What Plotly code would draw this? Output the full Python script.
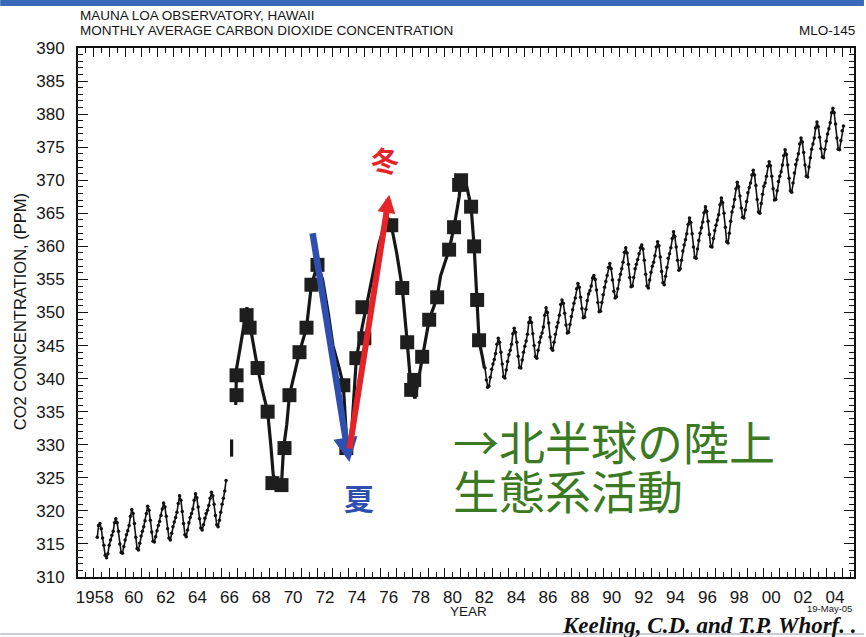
import plotly.graph_objects as go

# ---------------- data ----------------
# Monthly CO2 (ppm), 1958-03 .. 1966-04
early_start = (1958, 3)
early_ppm = [
    316.0, 317.8, 318.1, 317.3, 315.9, 314.8, 313.3, 312.9, 313.5, 314.8,            # 1958 Mar-Dec
    315.6, 316.3, 316.9, 318.2, 318.8, 318.2, 316.9, 315.0, 313.7, 313.6, 314.6, 315.6,  # 1959
    316.4, 317.0, 317.8, 319.2, 320.2, 319.6, 318.1, 316.0, 314.3, 314.1, 315.1, 316.2,  # 1960
    316.9, 317.6, 318.5, 319.6, 320.7, 320.1, 318.6, 316.8, 315.4, 315.3, 316.1, 317.0,  # 1961
    317.8, 318.4, 319.3, 320.3, 321.2, 320.6, 319.2, 317.3, 315.9, 315.6, 316.6, 317.6,  # 1962
    318.3, 319.0, 319.8, 321.1, 322.3, 321.6, 319.9, 318.1, 316.4, 316.1, 317.1, 318.2,  # 1963
    319.0, 319.6, 320.3, 321.6, 322.6, 322.0, 320.6, 318.8, 317.4, 317.1, 317.9, 318.9,  # 1964
    319.6, 320.1, 320.8, 321.9, 322.8, 322.3, 321.0, 319.3, 317.9, 317.6, 318.6, 319.8,  # 1965
    321.0, 321.9, 323.0, 324.6,                                                          # 1966 Jan-Apr
]

# Monthly CO2 (ppm), 1982-07 .. 2005-01
late_start = (1982, 7)
late_ppm = [
    341.6, 339.8, 338.7, 338.9, 340.2, 341.4,                                            # 1982 Jul-Dec
    342.2, 342.9, 343.8, 345.2, 346.1, 345.5, 344.0, 342.2, 340.3, 340.1, 341.3, 342.6,  # 1983
    343.6, 344.3, 345.2, 346.8, 347.6, 347.0, 345.5, 343.4, 341.7, 341.6, 342.8, 344.0,  # 1984
    344.9, 345.7, 346.7, 348.5, 349.2, 348.5, 346.8, 345.0, 343.3, 343.1, 344.3, 345.5,  # 1985
    346.3, 346.9, 347.8, 349.6, 350.7, 350.0, 348.4, 346.3, 344.6, 344.3, 345.5, 346.7,  # 1986
    347.8, 348.5, 349.6, 351.2, 351.9, 351.4, 349.9, 348.1, 346.9, 347.0, 348.2, 349.4,  # 1987
    350.4, 351.4, 352.2, 353.6, 354.4, 353.8, 352.3, 350.6, 349.2, 349.3, 350.5, 351.8,  # 1988
    352.8, 353.3, 354.0, 355.2, 355.6, 355.0, 353.4, 351.5, 350.1, 350.2, 351.5, 352.7,  # 1989
    353.8, 354.7, 355.6, 356.8, 357.4, 356.6, 354.9, 353.2, 352.2, 352.4, 353.6, 354.9,  # 1990
    355.8, 356.6, 357.6, 359.1, 359.8, 359.0, 357.3, 355.3, 353.9, 354.0, 355.3, 356.6,  # 1991
    357.3, 358.0, 358.9, 359.8, 360.2, 359.6, 357.9, 355.8, 354.0, 353.7, 354.9, 356.1,  # 1992
    357.0, 357.6, 358.6, 359.9, 360.7, 360.1, 358.4, 356.2, 354.5, 354.2, 355.5, 356.8,  # 1993
    358.2, 358.9, 359.8, 361.2, 362.2, 361.5, 359.9, 357.9, 356.4, 356.6, 357.9, 359.3,  # 1994
    360.2, 361.0, 361.9, 363.3, 364.3, 363.6, 361.9, 359.9, 358.3, 358.2, 359.6, 360.9,  # 1995
    362.0, 362.8, 363.7, 365.1, 366.0, 365.3, 363.8, 361.8, 360.0, 359.9, 361.2, 362.4,  # 1996
    363.2, 364.0, 364.8, 366.3, 367.3, 366.6, 365.0, 362.9, 360.7, 360.5, 362.0, 363.8,  # 1997
    365.2, 366.0, 367.1, 368.7, 369.7, 369.0, 367.6, 365.8, 364.4, 364.3, 365.5, 366.8,  # 1998
    368.1, 368.9, 369.6, 370.8, 371.5, 370.8, 369.2, 367.1, 365.2, 365.0, 366.5, 367.9,  # 1999
    369.1, 369.6, 370.6, 372.1, 372.8, 372.2, 370.6, 368.7, 367.0, 367.1, 368.4, 369.8,  # 2000
    370.6, 371.3, 372.3, 373.7, 374.6, 373.9, 372.3, 370.3, 368.4, 368.2, 369.6, 371.1,  # 2001
    372.4, 373.1, 374.0, 375.5, 376.4, 375.8, 374.2, 372.3, 370.6, 370.5, 372.0, 373.4,  # 2002
    374.7, 375.5, 376.4, 377.9, 378.8, 378.1, 376.5, 374.8, 373.5, 373.4, 374.7, 375.9,  # 2003
    377.0, 377.8, 378.7, 380.2, 380.9, 380.2, 378.5, 376.4, 374.7, 374.6, 376.0, 377.5,  # 2004
    378.2,                                                                               # 2005 Jan
]

# Magnified (blocky) seasonal trace, 1966-1982
mid_year = [1966.64, 1966.64, None, 1966.90, 1966.95, 1967.20, 1967.45, 1967.60, 1967.80,
            1968.05, 1968.27, 1968.55, 1968.90, 1969.10, 1969.25, 1969.50, 1969.77, 1969.90,
            1970.10, 1970.27, 1970.55, 1970.90, 1971.34, 1971.65, 1972.03, 1972.35, 1972.70,
            1973.00, 1973.40, 1973.65, 1973.84, 1973.95, 1974.20, 1974.47, 1974.85, 1975.10,
            1975.50, 1975.90, 1976.40, 1976.66, 1977.00, 1977.35, 1977.66, 1977.91, 1978.15,
            1978.35, 1978.60, 1979.04, 1979.54, 1979.75, 1980.29, 1980.60, 1980.92, 1981.04,
            1981.40, 1981.67, 1981.86, 1982.05, 1982.17, 1982.40, 1982.50]
mid_ppm = [328.2, 330.8, None, 336.0, 341.5, 345.0, 349.0, 350.8, 348.0,
           344.5, 341.6, 338.5, 335.0, 330.0, 325.5, 323.5, 324.0, 329.5,
           333.0, 337.5, 340.5, 344.0, 347.7, 354.2, 357.2, 355.0, 350.0,
           345.0, 341.5, 339.0, 331.5, 329.0, 333.0, 343.1, 348.0, 351.0,
           355.5, 360.5, 364.5, 363.2, 359.0, 353.7, 345.5, 338.3, 337.0,
           339.8, 343.3, 348.9, 352.3, 355.5, 359.5, 362.9, 367.5, 370.0,
           369.0, 366.0, 360.0, 351.9, 345.8, 343.0, 341.6]

block_year = [1966.95, 1966.95, 1967.58, 1967.77, 1968.27, 1968.90, 1969.96, 1969.20, 1969.77,
              1970.27, 1970.90, 1971.34, 1971.65, 1972.03, 1973.65, 1973.84, 1974.47, 1974.97,
              1974.85, 1976.66, 1977.35, 1977.66, 1977.91, 1978.10, 1978.60, 1979.04, 1979.54,
              1980.29, 1980.60, 1980.92, 1981.04, 1981.67, 1981.86, 1982.05, 1982.17]
block_ppm = [337.5, 340.5, 349.6, 347.7, 341.6, 335.0, 329.5, 324.2, 323.9,
             337.5, 344.0, 347.7, 354.2, 357.2, 339.0, 329.5, 343.1, 346.1,
             350.8, 363.2, 353.7, 345.5, 338.3, 339.8, 343.3, 348.9, 352.3,
             359.5, 362.9, 369.3, 370.0, 366.0, 360.0, 351.9, 345.8]

x_label_years = [1958, 1960, 1962, 1964, 1966, 1968, 1970, 1972, 1974, 1976, 1978, 1980,
                 1982, 1984, 1986, 1988, 1990, 1992, 1994, 1996, 1998, 2000, 2002, 2004]
x_label_text = ["1958", "60", "62", "64", "66", "68", "70", "72", "74", "76", "78", "80",
                "82", "84", "86", "88", "90", "92", "94", "96", "98", "00", "02", "04"]
y_ticks = list(range(310, 391, 5))


def month_axis(start, n):
    y0, m0 = start
    out = []
    for i in range(n):
        k = (m0 - 1) + i
        out.append(y0 + k // 12 + ((k % 12) + 0.5) / 12.0)
    return out


early_year = month_axis(early_start, len(early_ppm))
late_year = month_axis(late_start, len(late_ppm))

# label positions: centred in the labelled year (the 4-digit first label sits a bit left)
x_label_pos = [v + 0.5 for v in x_label_years]
x_label_pos[0] = x_label_years[0] + 0.05

# ---------------- layout geometry ----------------
W, H = 866, 637
L, R, T, B = 78, 10, 48, 60
PW, PH = W - L - R, H - T - B


def px(xp):
    return (xp - L) / PW


def py(yp):
    return (H - B - yp) / PH


fig = go.Figure()

line_style = dict(color="#111111", width=1.6)
fig.add_trace(go.Scatter(x=early_year, y=early_ppm, mode="lines+markers",
                         line=line_style, marker=dict(size=3.5, color="#111111"),
                         hoverinfo="skip", showlegend=False))
fig.add_trace(go.Scatter(x=late_year, y=late_ppm, mode="lines+markers",
                         line=line_style, marker=dict(size=3.5, color="#111111"),
                         hoverinfo="skip", showlegend=False))
fig.add_trace(go.Scatter(x=mid_year, y=mid_ppm, mode="lines",
                         line=dict(color="#161616", width=3.2),
                         connectgaps=False, hoverinfo="skip", showlegend=False))
fig.add_trace(go.Scatter(x=block_year, y=block_ppm, mode="markers",
                         marker=dict(symbol="square", size=14, color="#1e1e1e"),
                         hoverinfo="skip", showlegend=False))
# invisible trace for the tick-only overlay axis
fig.add_trace(go.Scatter(x=[1957, 2005.7], y=[None, None], xaxis="x2",
                         mode="markers", showlegend=False, hoverinfo="skip"))

tick_font = dict(family="Liberation Sans, Arial, sans-serif", size=17, color="#151515")

fig.update_layout(
    width=W, height=H,
    margin=dict(l=L, r=R, t=T, b=B, pad=0),
    paper_bgcolor="white", plot_bgcolor="white",
    xaxis=dict(range=[1957.0, 2005.7], tickmode="array",
               tickvals=x_label_pos, ticktext=x_label_text,
               ticks="", showgrid=False, zeroline=False, showline=True,
               linecolor="#111111", linewidth=1.8, mirror=True,
               tickfont=tick_font, ticklabelstandoff=4),
    xaxis2=dict(range=[1957.0, 2005.7], overlaying="x", side="bottom",
                tickmode="linear", tick0=1958, dtick=1, ticks="inside", ticklen=9,
                tickwidth=1.3, tickcolor="#111111", showticklabels=False,
                showgrid=False, zeroline=False, showline=False, mirror="ticks",
                minor=dict(tick0=1957.5, dtick=1, ticks="inside", ticklen=5,
                           tickwidth=1.2, tickcolor="#111111", showgrid=False)),
    yaxis=dict(range=[310, 390], tickmode="array", tickvals=y_ticks,
               ticks="inside", ticklen=10, tickwidth=1.3, tickcolor="#111111",
               showgrid=False, zeroline=False, showline=True, linecolor="#111111",
               linewidth=1.8, mirror="ticks", tickfont=tick_font,
               ticklabelstandoff=8,
               minor=dict(dtick=1, ticks="inside", ticklen=5, tickwidth=1.1,
                          tickcolor="#111111", showgrid=False)),
)

title_font = dict(family="Liberation Sans, Arial, sans-serif", size=13.5, color="#151515")
ann = []
ann.append(dict(text="MAUNA LOA OBSERVATORY, HAWAII", x=px(78), y=py(15),
                xanchor="left", yanchor="middle", font=title_font))
ann.append(dict(text="MONTHLY AVERAGE CARBON DIOXIDE CONCENTRATION", x=px(78), y=py(31),
                xanchor="left", yanchor="middle", font=title_font))
ann.append(dict(text="MLO-145", x=px(859), y=py(31), xanchor="right", yanchor="middle",
                font=title_font))
ann.append(dict(text="CO2 CONCENTRATION, (PPM)", x=px(20), y=py(312), textangle=-90,
                xanchor="center", yanchor="middle",
                font=dict(family="Liberation Sans, Arial, sans-serif", size=16.5, color="#151515")))
ann.append(dict(text="YEAR", x=px(470), y=py(611), xanchor="center", yanchor="middle",
                font=title_font))
ann.append(dict(text="19-May-05", x=px(831), y=py(608), xanchor="center", yanchor="middle",
                font=dict(family="Liberation Sans, Arial, sans-serif", size=9.5, color="#151515")))
ann.append(dict(text="<b><i>Keeling, C.D. and T.P. Whorf. .</i></b>", x=px(561), y=py(625),
                xanchor="left", yanchor="middle",
                font=dict(family="Liberation Serif, Times New Roman, serif", size=23,
                          color="#111111")))

# arrows (head at x,y ; tail at ax,ay in data coords)
ann.append(dict(x=1974.03, y=327.4, ax=1971.71, ay=362.2, xref="x", yref="y",
                axref="x", ayref="y", text="", showarrow=True, arrowhead=2,
                arrowsize=0.75, arrowwidth=6.5, arrowcolor="#2f4fb0"))
ann.append(dict(x=1976.53, y=367.8, ax=1974.03, ay=329.2, xref="x", yref="y",
                axref="x", ayref="y", text="", showarrow=True, arrowhead=2,
                arrowsize=0.6, arrowwidth=6, arrowcolor="#e5242a"))

cjk = "Noto Sans CJK JP, Noto Sans CJK SC, sans-serif"
ann.append(dict(text="<b>冬</b>", x=px(386), y=py(160), xanchor="center", yanchor="middle",
                font=dict(family=cjk, size=28, color="#e5242a")))
ann.append(dict(text="<b>夏</b>", x=px(360), y=py(497), xanchor="center", yanchor="middle",
                font=dict(family=cjk, size=30, color="#2f4fb0")))
ann.append(dict(text="→北半球の陸上", x=px(452), y=py(440), xanchor="left", yanchor="middle",
                font=dict(family=cjk, size=46, color="#3b7a22")))
ann.append(dict(text="生態系活動", x=px(452), y=py(489), xanchor="left", yanchor="middle",
                font=dict(family=cjk, size=46, color="#3b7a22")))

for a in ann:
    a.setdefault("xref", "paper")
    a.setdefault("yref", "paper")
    a.setdefault("showarrow", False)
fig.update_layout(annotations=ann)

fig.update_layout(shapes=[
    dict(type="rect", xref="paper", yref="paper", x0=px(0), x1=px(W), y0=py(6), y1=py(0),
         fillcolor="#3a68b8", line=dict(width=0), layer="above"),
    dict(type="line", xref="paper", yref="paper", x0=px(0), x1=px(W), y0=py(634), y1=py(634),
         line=dict(color="#b8bccc", width=1.5), layer="above"),
])

fig.write_html("out.html",
               config={"displayModeBar": False},
               post_script="document.body.style.margin='0px';"
                           "document.body.style.overflow='hidden';")
